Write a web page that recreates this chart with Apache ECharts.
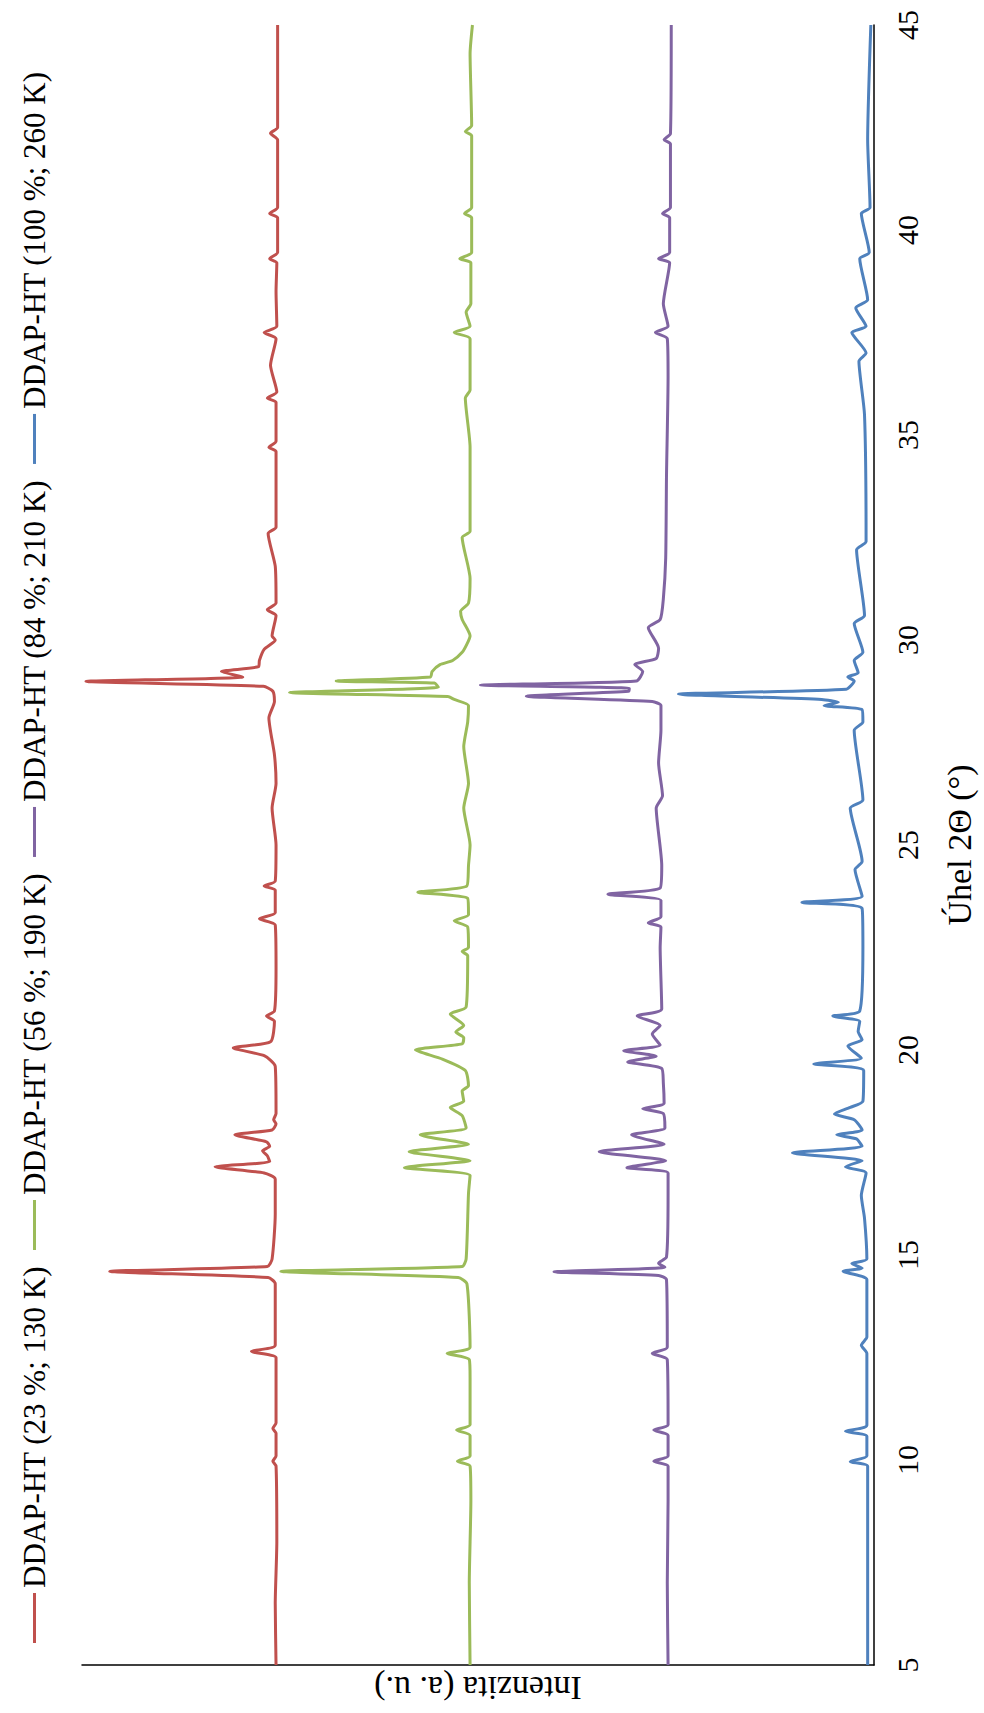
<!DOCTYPE html>
<html>
<head>
<meta charset="utf-8">
<script src="https://cdn.jsdelivr.net/npm/echarts@6/dist/echarts.min.js"></script>
<style>
html, body { margin:0; padding:0; width:984px; height:1713px; overflow:hidden; background:#fff; }
#c { position:absolute; left:0; top:0; width:1713px; height:984px; transform-origin:0 0; transform:translate(0,1713px) rotate(-90deg); }
</style>
</head>
<body>
<div id="c"></div>
<script>
// Axis / labels
const xTitle = 'Úhel 2Θ (°)';
const yTitle = 'Intenzita (a. u.)';
const seriesNames = ['DDAP-HT (23 %; 130 K)', 'DDAP-HT (56 %; 190 K)', 'DDAP-HT (84 %; 210 K)', 'DDAP-HT (100 %; 260 K)'];
const seriesColors = ['#C0504D', '#9BBB59', '#8064A2', '#4F81BD'];

// [2θ, intensity (offset, a.u.)]
const red = [[5,75.5],[6.5,75.6],[8,75.4],[9.85,75.5],[9.97,75.9],[10.1,75.5],[10.65,75.5],[10.77,75.9],[10.9,75.5],[12,75.5],[12.5,75.5],[12.65,78.6],[12.8,75.6],[14.3,75.6],[14.45,76.5],[14.6,96.5],[14.72,76.6],[14.9,76.0],[16.0,75.6],[16.85,75.6],[17.0,77.0],[17.15,83.2],[17.28,76.3],[17.42,76.6],[17.54,77.2],[17.65,76.3],[17.76,76.7],[17.93,80.7],[18.05,76.0],[18.2,75.5],[18.3,75.8],[18.45,75.5],[19.6,75.6],[19.86,77.0],[20.05,80.9],[20.2,76.2],[20.7,75.7],[20.83,76.7],[20.95,75.7],[22.0,75.5],[23.05,75.6],[23.2,77.6],[23.35,75.6],[23.9,75.6],[24.0,77.0],[24.12,75.6],[25.0,75.5],[25.9,76.0],[26.5,75.5],[27.2,75.7],[28.1,76.4],[28.5,75.7],[28.75,75.9],[28.87,77.1],[28.99,99.5],[29.1,79.7],[29.23,82.4],[29.35,77.7],[29.5,77.6],[29.77,77.0],[30.0,75.6],[30.1,76.0],[30.6,75.5],[30.74,76.6],[30.9,75.5],[31.8,75.6],[32.6,76.5],[32.75,75.5],[33.5,75.5],[34.6,75.5],[34.7,76.4],[34.85,75.5],[35.8,75.5],[35.9,76.6],[36.05,75.4],[36.7,76.2],[37.35,75.5],[37.5,77.0],[37.65,75.4],[38.5,75.5],[39.2,75.4],[39.3,76.3],[39.45,75.3],[40.3,75.3],[40.4,76.3],[40.55,75.3],[42.2,75.3],[42.36,76.2],[42.5,75.3],[43.5,75.3],[45,75.3]];
const green = [[5,51.0],[7,51.1],[9.0,50.9],[9.85,51.0],[9.97,52.6],[10.1,51.0],[10.6,51.0],[10.73,52.7],[10.86,51.0],[12.0,51.0],[12.45,51.1],[12.6,53.9],[12.75,51.0],[14.3,51.4],[14.45,52.5],[14.6,74.9],[14.72,52.0],[14.9,51.5],[16.5,51.2],[16.94,51.0],[17.13,59.3],[17.3,51.0],[17.52,58.7],[17.7,51.2],[17.93,57.3],[18.1,51.5],[18.4,52.0],[18.6,53.5],[18.75,51.8],[19.0,52.0],[19.13,51.2],[19.5,51.6],[19.78,54.5],[20.0,57.9],[20.15,52.0],[20.3,51.8],[20.44,52.8],[20.6,51.8],[20.88,53.5],[21.05,51.5],[22.3,51.3],[22.4,52.0],[22.5,51.2],[23.0,51.3],[23.15,53.0],[23.3,51.2],[23.7,51.3],[23.85,57.6],[24.0,51.4],[24.5,51.2],[25.0,51.0],[25.9,51.8],[26.5,51.2],[27.4,51.8],[28.0,51.3],[28.4,51.2],[28.55,53.0],[28.62,53.8],[28.72,73.8],[28.85,55.0],[28.95,55.5],[29.0,67.9],[29.1,56.0],[29.23,55.8],[29.4,54.8],[29.5,53.2],[29.7,52.0],[29.9,51.4],[30.1,51.0],[30.5,52.0],[30.7,52.2],[30.9,51.2],[31.5,51.0],[32.5,52.0],[32.65,51.0],[34.7,51.0],[35.9,51.6],[36.1,51.0],[37.35,51.0],[37.5,53.0],[37.65,51.0],[38.0,51.5],[38.2,50.9],[39.2,50.9],[39.3,52.3],[39.45,50.8],[40.3,50.8],[40.4,51.7],[40.55,50.8],[42.3,50.8],[42.4,51.6],[42.55,50.8],[44.3,51.0],[45,50.7]];
const purple = [[5,26.0],[7,26.1],[9.0,26.0],[9.85,26.0],[9.97,27.8],[10.1,26.0],[10.6,26.0],[10.73,27.8],[10.86,26.0],[12.45,26.1],[12.6,28.0],[12.75,26.1],[14.4,26.2],[14.5,27.2],[14.59,40.4],[14.7,26.4],[14.8,27.2],[14.95,26.2],[16.5,26.0],[17.0,26.0],[17.13,31.2],[17.3,26.3],[17.52,34.7],[17.7,26.5],[17.93,30.6],[18.1,26.4],[18.45,26.6],[18.57,29.2],[18.7,26.5],[19.2,26.6],[19.55,26.8],[19.71,31.1],[19.85,27.5],[19.98,31.6],[20.12,27.0],[20.39,28.0],[20.6,27.0],[20.83,29.9],[21.0,26.8],[22.5,27.0],[23.0,26.9],[23.1,28.5],[23.25,26.9],[23.65,26.9],[23.8,33.6],[23.95,27.0],[24.5,26.8],[25.9,27.5],[26.2,26.7],[27.0,27.2],[27.8,26.9],[28.4,26.9],[28.5,28.0],[28.63,43.9],[28.75,31.0],[28.82,30.9],[28.9,49.7],[29.0,30.0],[29.23,29.2],[29.4,30.2],[29.55,27.5],[29.8,27.2],[30.3,28.5],[30.5,27.0],[31.0,26.6],[32.0,26.3],[34.0,26.2],[36.4,26.0],[37.35,26.1],[37.5,27.6],[37.65,26.0],[38.2,26.6],[39.2,25.8],[39.3,27.2],[39.45,25.8],[40.3,25.8],[40.4,26.7],[40.55,25.7],[42.1,25.7],[42.2,26.5],[42.35,25.7],[45,25.6]];
const blue = [[5,0.8],[7,0.8],[9.0,0.8],[9.85,0.8],[9.96,3.0],[10.1,0.9],[10.58,0.9],[10.7,3.6],[10.85,0.9],[12.6,0.9],[12.8,1.6],[13.0,0.9],[14.4,0.9],[14.6,3.9],[14.68,1.5],[14.79,2.8],[14.9,0.9],[15.9,1.2],[16.45,1.6],[17.0,1.0],[17.15,3.6],[17.3,1.5],[17.49,10.3],[17.65,1.5],[17.83,2.2],[17.93,4.7],[18.05,1.5],[18.3,2.5],[18.44,5.0],[18.6,3.0],[18.75,1.4],[19.5,1.3],[19.66,7.6],[19.8,1.6],[20.1,3.3],[20.25,1.5],[20.45,2.0],[20.7,1.8],[20.83,5.2],[20.95,1.8],[22.5,1.4],[23.45,1.5],[23.6,9.1],[23.75,1.5],[24.4,2.4],[24.6,1.5],[25.9,3.0],[26.1,1.4],[27.8,2.5],[28.0,1.4],[28.3,1.5],[28.4,6.3],[28.48,4.5],[28.55,6.6],[28.68,24.7],[28.8,3.5],[29.0,2.5],[29.1,3.3],[29.2,2.0],[29.5,2.5],[29.7,1.4],[30.4,2.5],[30.6,1.2],[32.2,2.2],[32.4,1.0],[35.5,1.2],[36.8,1.9],[37.0,1.0],[37.5,2.8],[37.65,1.0],[38.1,2.3],[38.3,0.8],[39.3,1.8],[39.45,0.6],[40.4,1.6],[40.55,0.5],[42.2,0.8],[45,0.4]];
const seriesData = [red, green, purple, blue];

const FONT = "'Liberation Serif', 'Times New Roman', serif";
const chart = echarts.init(document.getElementById('c'), null, { renderer: 'svg' });
chart.setOption({
  backgroundColor: '#fff',
  animation: false,
  textStyle: { fontFamily: FONT, color: '#000' },
  legend: {
    top: 14, left: 65, icon: 'rect', itemWidth: 50, itemHeight: 3, itemGap: 16,
    textStyle: { fontFamily: FONT, fontSize: 31, color: '#000' },
    data: seriesNames
  },
  grid: { left: 46, right: 25, top: 82, bottom: 110, containLabel: false },
  xAxis: {
    type: 'value', min: 5, max: 45, interval: 5,
    name: xTitle, nameLocation: 'middle', nameGap: 68,
    nameTextStyle: { fontFamily: FONT, fontSize: 34, color: '#000' },
    axisLine: { show: true, onZero: false, lineStyle: { color: '#000', width: 1.5 } },
    axisTick: { show: false },
    axisLabel: { fontFamily: FONT, fontSize: 30, color: '#000', margin: 18 },
    splitLine: { show: false }
  },
  yAxis: {
    type: 'value', min: 0, max: 100,
    name: yTitle, nameLocation: 'middle', nameGap: 6, nameRotate: 90,
    nameTextStyle: { fontFamily: FONT, fontSize: 34, color: '#000' },
    axisLine: { show: true, lineStyle: { color: '#000', width: 1.5 } },
    axisTick: { show: false },
    axisLabel: { show: false },
    splitLine: { show: false }
  },
  series: seriesData.map((d, i) => ({
    name: seriesNames[i], type: 'line', data: d, showSymbol: false, symbol: 'none',
    smooth: 0.2, lineStyle: { color: seriesColors[i], width: 3 }, itemStyle: { color: seriesColors[i] }
  }))
});
</script>
</body>
</html>
